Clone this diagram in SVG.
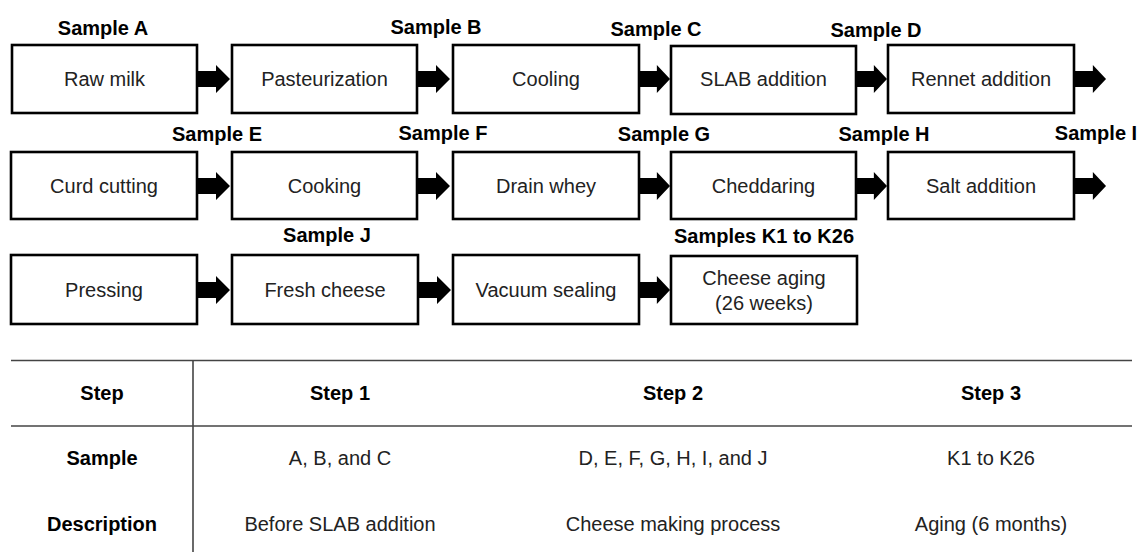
<svg xmlns="http://www.w3.org/2000/svg" width="1144" height="552" viewBox="0 0 1144 552">
<style>
.box{fill:#fff;stroke:#000;stroke-width:2.6}
.t{font-family:"Liberation Sans",Arial,sans-serif;font-size:20px;fill:#222;text-anchor:middle}
.b{font-family:"Liberation Sans",Arial,sans-serif;font-size:20px;font-weight:bold;fill:#000;text-anchor:middle}
.arr{fill:#000}
.ln{stroke:#444;stroke-width:1.6;fill:none}
</style>
<defs>
<polygon id="ar" points="0,-8 19,-8 19,-14 33,0 19,14 19,8 0,8"/>
</defs>
<g id="connectors" class="arr">
<use href="#ar" x="197" y="79"/>
<use href="#ar" x="417" y="79"/>
<use href="#ar" x="639" y="79" transform="translate(639 79) scale(0.94 1) translate(-639 -79)"/>
<use href="#ar" x="856" y="79" transform="translate(856 79) scale(0.94 1) translate(-856 -79)"/>
<use href="#ar" x="1075" y="79" transform="translate(1075 79) scale(0.94 1) translate(-1075 -79)"/>
<use href="#ar" x="197" y="186"/>
<use href="#ar" x="417" y="186"/>
<use href="#ar" x="639" y="186" transform="translate(639 186) scale(0.94 1) translate(-639 -186)"/>
<use href="#ar" x="856" y="186" transform="translate(856 186) scale(0.94 1) translate(-856 -186)"/>
<use href="#ar" x="1075" y="186" transform="translate(1075 186) scale(0.94 1) translate(-1075 -186)"/>
<use href="#ar" x="197" y="290"/>
<use href="#ar" x="418" y="290"/>
<use href="#ar" x="639" y="290" transform="translate(639 290) scale(0.94 1) translate(-639 -290)"/>
</g>
<g id="n-raw"><rect class="box" x="12" y="45" width="185" height="68"/><text class="t" x="104.5" y="86">Raw milk</text><text class="b" x="103" y="35">Sample A</text></g>
<g id="n-past"><rect class="box" x="232" y="45" width="185" height="68"/><text class="t" x="324.5" y="86">Pasteurization</text><text class="b" x="436" y="34">Sample B</text></g>
<g id="n-cool"><rect class="box" x="453" y="45" width="186" height="68"/><text class="t" x="546" y="86">Cooling</text><text class="b" x="656" y="36">Sample C</text></g>
<g id="n-slab"><rect class="box" x="671" y="46" width="185" height="68"/><text class="t" x="763.5" y="86">SLAB addition</text><text class="b" x="876" y="37">Sample D</text></g>
<g id="n-rennet"><rect class="box" x="888" y="45" width="186" height="68"/><text class="t" x="981" y="86">Rennet addition</text></g>
<g id="n-curd"><rect class="box" x="11" y="152" width="186" height="67"/><text class="t" x="104" y="193">Curd cutting</text><text class="b" x="217" y="141">Sample E</text></g>
<g id="n-cook"><rect class="box" x="232" y="152" width="185" height="67"/><text class="t" x="324.5" y="193">Cooking</text><text class="b" x="443" y="140">Sample F</text></g>
<g id="n-drain"><rect class="box" x="453" y="152" width="186" height="67"/><text class="t" x="546" y="193">Drain whey</text><text class="b" x="664" y="141">Sample G</text></g>
<g id="n-ched"><rect class="box" x="671" y="152" width="185" height="67"/><text class="t" x="763.5" y="193">Cheddaring</text><text class="b" x="884" y="141">Sample H</text></g>
<g id="n-salt"><rect class="box" x="888" y="152" width="186" height="67"/><text class="t" x="981" y="193">Salt addition</text><text class="b" x="1096" y="140">Sample I</text></g>
<g id="n-press"><rect class="box" x="11" y="255" width="186" height="69"/><text class="t" x="104" y="297">Pressing</text></g>
<g id="n-fresh"><rect class="box" x="232" y="255" width="186" height="69"/><text class="t" x="325" y="297">Fresh cheese</text><text class="b" x="327" y="242">Sample J</text></g>
<g id="n-vac"><rect class="box" x="453" y="255" width="186" height="69"/><text class="t" x="546" y="297">Vacuum sealing</text></g>
<g id="n-aging"><rect class="box" x="671" y="256" width="186" height="68"/><text class="t" x="764" y="285">Cheese aging</text><text class="t" x="764" y="310">(26 weeks)</text><text class="b" x="764" y="243">Samples K1 to K26</text></g>
<g id="table">
<line class="ln" x1="11" y1="360.5" x2="1132" y2="360.5"/>
<line class="ln" x1="11" y1="426" x2="1132" y2="426"/>
<line class="ln" x1="193" y1="360" x2="193" y2="552" stroke="#000"/>
<text class="b" x="102" y="400">Step</text>
<text class="b" x="340" y="400">Step 1</text>
<text class="b" x="673" y="400">Step 2</text>
<text class="b" x="991" y="400">Step 3</text>
<text class="b" x="102" y="465">Sample</text>
<text class="t" x="340" y="465">A, B, and C</text>
<text class="t" x="673" y="465">D, E, F, G, H, I, and J</text>
<text class="t" x="991" y="465">K1 to K26</text>
<text class="b" x="102" y="531">Description</text>
<text class="t" x="340" y="531">Before SLAB addition</text>
<text class="t" x="673" y="531">Cheese making process</text>
<text class="t" x="991" y="531">Aging (6 months)</text>
</g>
</svg>
